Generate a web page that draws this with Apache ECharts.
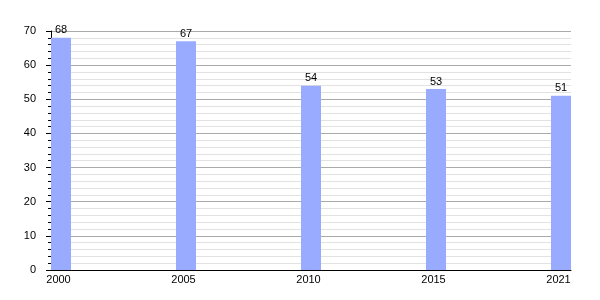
<!DOCTYPE html>
<html><head><meta charset="utf-8">
<script src="https://cdn.jsdelivr.net/npm/echarts@6/dist/echarts.min.js"></script>
<style>html,body{margin:0;padding:0;background:#fff}#c{width:600px;height:300px}</style>
</head><body><div id="c"></div>
<script>
const categories = ['2000', '2005', '2010', '2015', '2021'];
const values = [68, 67, 54, 53, 51];
const yTicks = [0, 10, 20, 30, 40, 50, 60, 70];

const chart = echarts.init(document.getElementById('c'), null, {renderer: 'canvas'});
const font = 'Liberation Sans, Arial, sans-serif';
chart.setOption({
  animation: false,
  grid: [
    {left: 51, right: 29, top: 31, bottom: 30},
    {left: 61, right: 39, top: 31, bottom: 30}
  ],
  xAxis: [
    {gridIndex: 0, type: 'value', min: 0, max: 1,
     axisLine: {show: true, lineStyle: {color: '#000', width: 1}},
     axisTick: {show: false}, axisLabel: {show: false}, splitLine: {show: false}},
    {gridIndex: 1, type: 'category', data: categories, boundaryGap: false,
     axisLine: {show: false}, axisTick: {show: false},
     axisLabel: {color: '#000', fontSize: 11, fontFamily: font, margin: 4, padding: [0, 5, 0, 0]}}
  ],
  yAxis: [
    {gridIndex: 0, type: 'value', min: yTicks[0], max: yTicks[yTicks.length - 1], interval: 10,
     axisLine: {show: true, lineStyle: {color: '#000', width: 1}},
     axisTick: {show: true, length: 5, lineStyle: {color: '#000'}},
     minorTick: {show: true, splitNumber: 5, length: 3, lineStyle: {color: '#000'}},
     axisLabel: {color: '#000', fontSize: 11, fontFamily: font, margin: 15},
     splitLine: {show: true, lineStyle: {color: '#aaaaaa', width: 1}},
     minorSplitLine: {show: true, lineStyle: {color: '#e2e2e2', width: 1}}},
    {gridIndex: 1, type: 'value', min: yTicks[0], max: yTicks[yTicks.length - 1], show: false}
  ],
  series: [{
    type: 'bar', xAxisIndex: 1, yAxisIndex: 1, data: values, barWidth: 20, clip: false,
    itemStyle: {color: '#99abff'},
    label: {show: true, position: 'top', distance: 2, color: '#000', fontSize: 11, fontFamily: font}
  }]
});
</script></body></html>
